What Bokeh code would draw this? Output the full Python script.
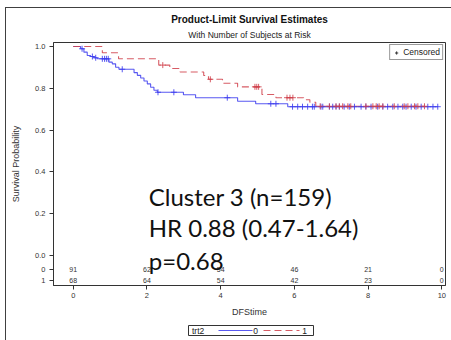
import numpy as np
from bokeh.plotting import figure
from bokeh.layouts import column
from bokeh.models import (Range1d, FixedTicker, PrintfTickFormatter, Title, Label,
                          Legend, LegendItem, ColumnDataSource)
from bokeh.core.properties import value
from bokeh.embed import file_html
from bokeh.resources import INLINE

# ---------------- data ----------------
title_text = "Product-Limit Survival Estimates"
subtitle_text = "With Number of Subjects at Risk"
x_label = "DFStime"
y_label = "Survival Probability"
group_name = "trt2"
group_labels = ["0", "1"]

# trt2 = 0 : step times and survival after each step
t0 = [0.0, 0.20, 0.29, 0.38, 0.47, 0.56, 0.65, 0.97, 1.06, 1.15, 1.24, 1.65, 1.74,
      1.83, 1.92, 2.01, 2.10, 2.19, 2.28, 2.99, 3.32, 4.46, 4.95, 5.82]
s0 = [1.000, 0.989, 0.973, 0.957, 0.952, 0.946, 0.941, 0.925, 0.917, 0.901, 0.891, 0.875,
      0.862, 0.849, 0.835, 0.821, 0.805, 0.791, 0.781, 0.769, 0.755, 0.738, 0.726, 0.712]
# trt2 = 0 : censored times
c0 = [0.24, 0.52, 0.61, 0.79, 0.85, 0.90, 0.95, 1.33, 2.30, 2.73, 4.18, 5.36, 5.50,
      5.95, 6.09, 6.22, 6.36, 6.49, 6.54, 6.72, 6.77, 6.95, 7.04, 7.13, 7.22, 7.35, 7.49,
      7.63, 7.81, 7.94, 8.08, 8.26, 8.40, 8.53, 8.67, 8.81, 8.94, 9.03, 9.17, 9.30, 9.44,
      9.62, 9.76, 9.89]

# trt2 = 1 : step times and survival after each step
t1 = [0.0, 0.79, 1.23, 2.32, 2.62, 2.90, 3.54, 3.67, 4.05, 4.46, 5.12, 5.50, 6.25, 6.42, 6.58]
s1 = [1.000, 0.970, 0.941, 0.911, 0.895, 0.878, 0.861, 0.843, 0.824, 0.807, 0.770, 0.755,
      0.745, 0.733, 0.714]
# trt2 = 1 : censored times
c1 = [2.43, 3.72, 4.93, 4.98, 5.03, 5.80, 5.88, 5.96, 6.70, 6.95, 7.13, 7.22, 7.31, 7.45,
      7.53, 7.94, 8.13, 8.22, 8.30, 8.40, 8.71, 8.98, 9.08, 9.26, 9.35, 9.53]

# number at risk
risk_times = [0, 2, 4, 6, 8, 10]
risk0 = [91, 62, 54, 46, 21, 0]
risk1 = [68, 64, 54, 42, 23, 0]

annot_lines = ["Cluster 3 (n=159)", "HR 0.88 (0.47-1.64)", "p=0.68"]
censor_label = "Censored"

x_ticks = [0, 2, 4, 6, 8, 10]
y_ticks = [0.0, 0.2, 0.4, 0.6, 0.8, 1.0]

# ---------------- style ----------------
BLUE = "#3c3cee"
RED = "#d0404a"
DARK = "#333333"
FONT = "Liberation Sans"
ROW0_Y, ROW1_Y = -0.067, -0.12          # vertical places of the at-risk rows
ANNOT_Y = (0.282, 0.134, -0.024)        # vertical places of the big text lines


def extend(t, s, c):
    end = max(max(c), t[-1])
    return list(t) + [end], list(s) + [s[-1]]


def surv_at(t, s, c):
    idx = np.searchsorted(np.array(t), np.array(c), side="right") - 1
    return list(np.array(s)[idx])


p = figure(width=445, height=313,
           x_range=Range1d(-0.535, 10.1), y_range=Range1d(-0.1435, 1.0191),
           output_backend="svg", toolbar_location=None,
           min_border_left=47, min_border_top=34, min_border_right=6, min_border_bottom=36)

p.xgrid.visible = False
p.ygrid.visible = False
p.outline_line_color = DARK
p.outline_line_width = 1
p.background_fill_color = "white"
p.border_fill_color = "white"

# titles
p.add_layout(Title(text=subtitle_text, align="center", text_font=FONT,
                   text_font_size="8.5px", text_font_style="normal",
                   text_color="#222222", standoff=6), "above")
p.add_layout(Title(text=title_text, align="center", text_font=FONT,
                   text_font_size="10px", text_font_style="bold",
                   text_color="#111111", standoff=0), "above")

# axes
for ax in (p.xaxis[0], p.yaxis[0]):
    ax.major_tick_out = 4
    ax.major_tick_in = 0
    ax.minor_tick_out = 0
    ax.minor_tick_in = 0
    ax.axis_line_color = DARK
    ax.major_tick_line_color = DARK
    ax.major_label_text_font = FONT
    ax.major_label_text_font_size = "7.5px"
    ax.major_label_text_color = "#333333"
    ax.axis_label_text_font = FONT
    ax.axis_label_text_font_size = "9px"
    ax.axis_label_text_font_style = "normal"
    ax.axis_label_text_color = "#333333"

p.xaxis.ticker = FixedTicker(ticks=x_ticks, minor_ticks=[])
# y ticks + the two at-risk row labels on the same left axis
p.yaxis.ticker = FixedTicker(ticks=[ROW1_Y, ROW0_Y] + y_ticks, minor_ticks=[])
overrides = {v: "%.1f" % v for v in y_ticks}
overrides[ROW0_Y] = group_labels[0]
overrides[ROW1_Y] = group_labels[1]
p.yaxis.major_label_overrides = overrides
p.xaxis.formatter = PrintfTickFormatter(format="%d")
p.xaxis.axis_label = x_label
p.yaxis.axis_label = y_label
p.xaxis.major_label_standoff = 3
p.yaxis.major_label_standoff = 4
p.xaxis.axis_label_standoff = 6
p.yaxis.axis_label_standoff = 11

# curves
x0, y0 = extend(t0, s0, c0)
x1, y1 = extend(t1, s1, c1)
r0 = p.step(x0, y0, mode="after", line_color=BLUE, line_width=1.1, line_alpha=0.85)
r1 = p.step(x1, y1, mode="after", line_color=RED, line_width=1.1, line_alpha=0.85,
            line_dash="7 4")
p.scatter(c0, surv_at(t0, s0, c0), marker="cross", size=6, line_color=BLUE,
          line_width=1, line_alpha=0.85)
p.scatter(c1, surv_at(t1, s1, c1), marker="cross", size=6, line_color=RED,
          line_width=1, line_alpha=0.85)
# a marker kept outside the view, only for the "Censored" legend entry
rc = p.scatter(x=[-5], y=[-5], marker="cross", size=6, line_color=DARK, line_width=1)

# numbers at risk
risk_src = ColumnDataSource(dict(
    x=risk_times + risk_times,
    y=[ROW0_Y] * len(risk_times) + [ROW1_Y] * len(risk_times),
    text=[str(v) for v in risk0] + [str(v) for v in risk1]))
p.text(x="x", y="y", text="text", source=risk_src, text_font=value(FONT),
       text_font_size="7px", text_align="center", text_baseline="middle",
       text_color="#333333")

# big annotation text
for txt, yy in zip(annot_lines, ANNOT_Y):
    p.add_layout(Label(x=2.05, y=yy, text=txt, text_font="Lato", text_font_size="24px",
                       text_align="left", text_baseline="alphabetic", text_color="#111111"))

# "Censored" legend inside the plot
leg_c = Legend(items=[LegendItem(label=censor_label, renderers=[rc])],
               location="top_right", margin=2, padding=2, spacing=0,
               glyph_width=8, glyph_height=9, label_standoff=3, label_height=9,
               label_text_font=FONT, label_text_font_size="8.5px",
               label_text_color="#222222",
               border_line_color=DARK, border_line_width=1,
               background_fill_color="white", background_fill_alpha=1)
p.add_layout(leg_c, "center")

# group legend ("trt2 ---- 0  - - - 1") as a small boxed panel below the plot,
# drawn in a strip whose units are pixels
lg = figure(width=445, height=19, x_range=Range1d(0, 392), y_range=Range1d(0, 19),
            output_backend="svg", toolbar_location=None,
            min_border_left=47, min_border_right=6, min_border_top=0, min_border_bottom=0)
lg.xaxis.visible = False
lg.yaxis.visible = False
lg.xgrid.visible = False
lg.ygrid.visible = False
lg.outline_line_color = None
lg.border_fill_color = "white"
BOX_L, BOX_R, BOX_B, BOX_T = 135, 260, 5, 15
lg.quad(left=[BOX_L], right=[BOX_R], bottom=[BOX_B], top=[BOX_T], fill_color="white",
        line_color=DARK, line_width=1)
MID = (BOX_B + BOX_T) / 2
LEG_TXT = dict(text_font=value(FONT), text_font_size="8.5px", text_baseline="middle",
               text_color="#222222")
lg.text(x=[BOX_L + 3.5], y=[MID], text=[group_name], text_align="left", **LEG_TXT)
lg.segment(x0=[BOX_L + 30], y0=[MID], x1=[BOX_L + 64], y1=[MID], line_color=BLUE,
           line_width=1.1, line_alpha=0.85)
lg.text(x=[BOX_L + 67], y=[MID], text=[group_labels[0]], text_align="center", **LEG_TXT)
lg.segment(x0=[BOX_L + 75], y0=[MID], x1=[BOX_L + 111], y1=[MID], line_color=RED,
           line_width=1.1, line_alpha=0.85, line_dash="7 4")
lg.text(x=[BOX_L + 116], y=[MID], text=[group_labels[1]], text_align="center", **LEG_TXT)

layout = column(p, lg, spacing=0)
layout.margin = (7, 0, 0, 5)
layout.styles = {"border-left": "1px solid #404040", "border-top": "1px solid #404040"}

open("out.html", "w").write(file_html(layout, INLINE))
